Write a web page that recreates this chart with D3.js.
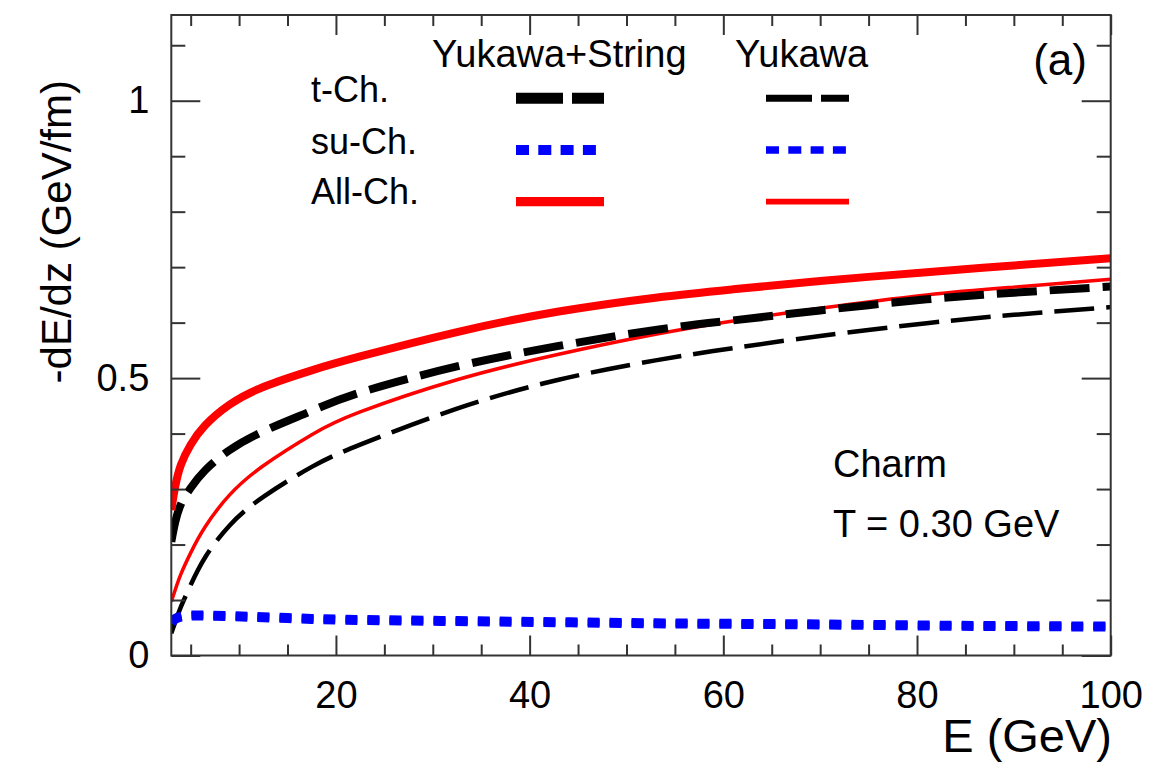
<!DOCTYPE html>
<html>
<head>
<meta charset="utf-8">
<script src="https://cdn.jsdelivr.net/npm/d3@7"></script>
<style>
  html, body { margin: 0; padding: 0; background: #fff; }
  svg { display: block; }
  text { font-family: "Liberation Sans", Arial, Helvetica, sans-serif; fill: #000; }
</style>
</head>
<body>
<svg id="chart" width="1153" height="771"></svg>
<script>
// ---------------- data ----------------
const energies = [3, 3.4, 4, 5, 6.5, 9, 12.5, 17.5, 22.5, 32.5, 43, 53, 61, 70, 81, 90, 100];
const ysAllCh = [0.262, 0.304, 0.344, 0.380, 0.415, 0.452, 0.484, 0.514, 0.539, 0.583, 0.620, 0.645, 0.660, 0.675, 0.691, 0.703, 0.716];
const ysTCh   = [0.205, 0.240, 0.273, 0.302, 0.334, 0.370, 0.404, 0.441, 0.474, 0.521, 0.558, 0.587, 0.604, 0.622, 0.642, 0.654, 0.665];
const ysSuCh  = [0.060, 0.066, 0.070, 0.072, 0.072, 0.071, 0.069, 0.066, 0.064, 0.062, 0.060, 0.058, 0.057, 0.056, 0.054, 0.053, 0.052];
const yAllCh  = [0.097, 0.118, 0.147, 0.185, 0.232, 0.289, 0.342, 0.398, 0.439, 0.497, 0.543, 0.579, 0.603, 0.626, 0.650, 0.664, 0.678];
const yTCh    = [0.040, 0.060, 0.088, 0.127, 0.177, 0.234, 0.286, 0.340, 0.380, 0.445, 0.497, 0.532, 0.554, 0.576, 0.599, 0.614, 0.628];
const ySuCh   = [0.060, 0.066, 0.070, 0.072, 0.072, 0.071, 0.069, 0.066, 0.064, 0.062, 0.060, 0.058, 0.057, 0.056, 0.054, 0.053, 0.052];

const xMajorTicks = [20, 40, 60, 80, 100];
const xMinorTicks = [5, 10, 15, 25, 30, 35, 45, 50, 55, 65, 70, 75, 85, 90, 95];
const yMajorTicks = [0, 0.5, 1];
const yMinorTicks = [0.1, 0.2, 0.3, 0.4, 0.6, 0.7, 0.8, 0.9, 1.1];
const xDomain = [3, 100];
const yDomain = [0, 1.1545];

const rowLabels = ["t-Ch.", "su-Ch.", "All-Ch."];
const colLabels = ["Yukawa+String", "Yukawa"];

// ---------------- layout ----------------
const L = 171.3, R = 1110.7, T = 15, B = 655.5;
const svg = d3.select("#chart");
const x = d3.scaleLinear().domain(xDomain).range([L, R]);
const y = d3.scaleLinear().domain(yDomain).range([B, T]);

svg.append("defs").append("clipPath").attr("id", "clip")
  .append("rect").attr("x", L).attr("y", T).attr("width", R - L).attr("height", B - T);

// series styles
const series = [
  { vals: yTCh,    color: "#000", width: 4.5, dash: "40,12" },
  { vals: yAllCh,  color: "#ff0000", width: 3.5, dash: null },
  { vals: ySuCh,   color: "#0000ff", width: 7, dash: "12,10" },
  { vals: ysTCh,   color: "#000", width: 8, dash: "40,13" },
  { vals: ysSuCh,  color: "#0000ff", width: 10, dash: "12,10" },
  { vals: ysAllCh, color: "#ff0000", width: 8, dash: null },
];

const line = d3.line()
  .x(d => x(d[0]))
  .y(d => y(d[1]))
  .curve(d3.curveNatural);

const g = svg.append("g").attr("clip-path", "url(#clip)");
series.forEach(s => {
  g.append("path")
    .datum(energies.map((e, i) => [e, s.vals[i]]))
    .attr("d", line)
    .attr("fill", "none")
    .attr("stroke", s.color)
    .attr("stroke-width", s.width)
    .attr("stroke-dasharray", s.dash)
    .attr("stroke-linejoin", "round");
});

// ---------------- axes ----------------
const axisColor = "#333";
function styleAxis(sel) {
  sel.select(".domain").remove();
  sel.selectAll("line").attr("stroke", axisColor).attr("stroke-width", 2);
  sel.selectAll("text").attr("font-size", 38).attr("fill", "#000")
    .attr("font-family", '"Liberation Sans", Arial, sans-serif');
}
// bottom
svg.append("g").attr("transform", `translate(0,${B})`)
  .call(d3.axisBottom(x).tickValues(xMajorTicks).tickSize(-20).tickPadding(26).tickFormat(d3.format("d")))
  .call(styleAxis);
svg.append("g").attr("transform", `translate(0,${B})`)
  .call(d3.axisBottom(x).tickValues(xMinorTicks).tickSize(-11).tickFormat(""))
  .call(styleAxis);
// top
svg.append("g").attr("transform", `translate(0,${T})`)
  .call(d3.axisTop(x).tickValues(xMajorTicks).tickSize(-20).tickFormat(""))
  .call(styleAxis);
svg.append("g").attr("transform", `translate(0,${T})`)
  .call(d3.axisTop(x).tickValues(xMinorTicks).tickSize(-11).tickFormat(""))
  .call(styleAxis);
// left
svg.append("g").attr("transform", `translate(${L},0)`)
  .call(d3.axisLeft(y).tickValues(yMajorTicks).tickSize(-29).tickPadding(22).tickFormat(d => d === 0 ? "0" : d3.format("")(d)))
  .call(styleAxis);
svg.append("g").attr("transform", `translate(${L},0)`)
  .call(d3.axisLeft(y).tickValues(yMinorTicks).tickSize(-14).tickFormat(""))
  .call(styleAxis);
// right
svg.append("g").attr("transform", `translate(${R},0)`)
  .call(d3.axisRight(y).tickValues(yMajorTicks).tickSize(-29).tickFormat(""))
  .call(styleAxis);
svg.append("g").attr("transform", `translate(${R},0)`)
  .call(d3.axisRight(y).tickValues(yMinorTicks).tickSize(-14).tickFormat(""))
  .call(styleAxis);

// frame
svg.append("rect").attr("x", L).attr("y", T).attr("width", R - L).attr("height", B - T)
  .attr("fill", "none").attr("stroke", axisColor).attr("stroke-width", 2);

// axis titles
svg.append("text").attr("x", 1112).attr("y", 752).attr("text-anchor", "end")
  .attr("font-size", 47).text("E (GeV)");
svg.append("text").attr("transform", "translate(71,80) rotate(-90)").attr("text-anchor", "end")
  .attr("font-size", 42).text("-dE/dz (GeV/fm)");

// panel label & annotation
svg.append("text").attr("x", 1087).attr("y", 75).attr("text-anchor", "end")
  .attr("font-size", 44).text("(a)");
svg.append("text").attr("x", 833).attr("y", 477).attr("font-size", 38).text("Charm");
svg.append("text").attr("x", 833).attr("y", 537).attr("font-size", 38).text("T = 0.30 GeV");

// ---------------- legend ----------------
const colX = [[516, 604], [766, 849]];
const colTextX = [432, 735];
const rowY = [98.3, 150, 201.7];
const rowTextY = [102, 154, 204];
colLabels.forEach((c, i) => {
  svg.append("text").attr("x", colTextX[i]).attr("y", 67).attr("font-size", 38).text(c);
});
rowLabels.forEach((r, i) => {
  svg.append("text").attr("x", 311).attr("y", rowTextY[i]).attr("font-size", 36).text(r);
});
const legendStyles = [
  [ { color: "#000", width: 11, dash: "47,9" }, { color: "#000", width: 7, dash: "46,9" } ],
  [ { color: "#0000ff", width: 10, dash: "13,9.3" }, { color: "#0000ff", width: 7.7, dash: "13,9.3" } ],
  [ { color: "#ff0000", width: 9.3, dash: null }, { color: "#ff0000", width: 5.7, dash: null } ],
];
legendStyles.forEach((row, ri) => {
  row.forEach((st, ci) => {
    svg.append("line")
      .attr("x1", colX[ci][0]).attr("x2", colX[ci][1])
      .attr("y1", rowY[ri]).attr("y2", rowY[ri])
      .attr("stroke", st.color).attr("stroke-width", st.width)
      .attr("stroke-dasharray", st.dash);
  });
});
</script>
</body>
</html>
